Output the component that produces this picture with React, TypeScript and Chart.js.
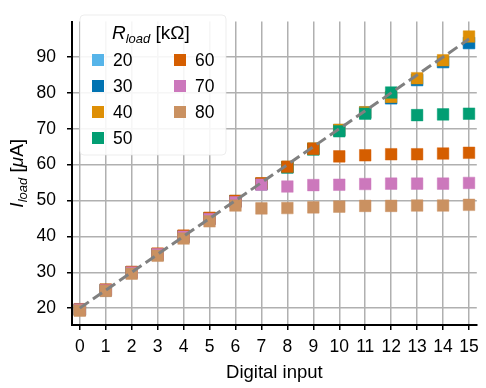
import React, { useEffect, useRef } from "react";
import { Chart, registerables } from "chart.js";

Chart.register(...registerables);

// ---- data ----
const digitalInput = [0, 1, 2, 3, 4, 5, 6, 7, 8, 9, 10, 11, 12, 13, 14, 15];
const loadLabels = ["20", "30", "40", "50", "60", "70", "80"];

const load20 = [19.6, 25.0, 30.0, 35.0, 40.0, 45.0, 49.8, 54.6, 59.3, 64.4, 69.6, 74.5, 78.5, 83.6, 88.6, 93.9];
const load30 = [19.6, 25.0, 30.0, 35.0, 40.0, 45.0, 49.8, 54.6, 59.3, 64.4, 69.6, 74.5, 78.5, 83.6, 88.6, 93.9];
const load40 = [19.6, 25.0, 30.0, 35.0, 40.0, 45.0, 49.8, 54.7, 59.4, 64.5, 69.7, 74.6, 78.9, 84.1, 89.1, 95.7];
const load50 = [19.6, 25.0, 30.0, 35.0, 40.0, 45.0, 49.8, 54.6, 59.2, 64.2, 69.3, 74.2, 80.1, 73.8, 74.0, 74.2];
const load60 = [19.7, 25.2, 30.1, 35.2, 40.2, 45.2, 49.9, 54.8, 59.4, 64.4, 62.3, 62.6, 62.9, 62.9, 63.1, 63.3];
const load70 = [19.6, 25.0, 29.9, 35.0, 39.9, 44.8, 49.5, 54.4, 53.9, 54.3, 54.4, 54.6, 54.7, 54.7, 54.7, 54.9];
const load80 = [19.3, 24.8, 29.6, 34.6, 39.4, 44.2, 48.6, 47.8, 47.9, 48.1, 48.3, 48.5, 48.5, 48.6, 48.6, 48.8];
const loadSeries = [load20, load30, load40, load50, load60, load70, load80];

const idealX = [0, 15];
const idealY = [20, 95];

const xTicks = [0, 1, 2, 3, 4, 5, 6, 7, 8, 9, 10, 11, 12, 13, 14, 15];
const yTicks = [20, 30, 40, 50, 60, 70, 80, 90];

// ---- style ----
const colors = ["#56b4e9", "#0173b2", "#de8f05", "#029e73", "#d55e00", "#cc78bc", "#ca9161"];
const FONT = "'Liberation Sans', Arial, sans-serif";

function hexA(hex: string, a: number) {
  const n = parseInt(hex.slice(1), 16);
  return `rgba(${(n >> 16) & 255},${(n >> 8) & 255},${n & 255},${a})`;
}

function drawRich(ctx: CanvasRenderingContext2D, parts: { t: string; it?: boolean; sub?: boolean }[], x: number, y: number, size: number, subSize: number, center: boolean) {
  const fontOf = (p: any) => `${p.it ? "italic " : ""}${p.sub ? subSize : size}px ${FONT}`;
  let total = 0;
  parts.forEach((p) => {
    ctx.font = fontOf(p);
    total += ctx.measureText(p.t).width;
  });
  let cx = center ? x - total / 2 : x;
  ctx.textBaseline = "alphabetic";
  ctx.textAlign = "left";
  parts.forEach((p) => {
    ctx.font = fontOf(p);
    ctx.fillText(p.t, cx, y + (p.sub ? size * 0.26 : 0));
    cx += ctx.measureText(p.t).width;
  });
}

const overlayPlugin = {
  id: "overlay",
  afterDraw(chart: any) {
    const ctx: CanvasRenderingContext2D = chart.ctx;
    const ca = chart.chartArea;
    ctx.save();
    ctx.fillStyle = "#000";
    // x title
    ctx.font = `18.5px ${FONT}`;
    ctx.textAlign = "center";
    ctx.textBaseline = "middle";
    ctx.fillText("Digital input", (ca.left + ca.right) / 2, 373);
    // y title
    ctx.save();
    ctx.translate(22.5, (ca.top + ca.bottom) / 2);
    ctx.rotate(-Math.PI / 2);
    drawRich(ctx, [{ t: "I", it: true }, { t: "load", it: true, sub: true }, { t: " [" }, { t: "μ", it: true }, { t: "A]" }], 0, 0, 19, 13, true);
    ctx.restore();

    // legend
    const lx = 80, ly = 15, lw = 146, lh = 140;
    ctx.beginPath();
    (ctx as any).roundRect(lx, ly, lw, lh, 4);
    ctx.fillStyle = "rgba(255,255,255,0.88)";
    ctx.fill();
    ctx.strokeStyle = "rgba(225,225,225,0.6)";
    ctx.lineWidth = 1;
    ctx.stroke();
    ctx.fillStyle = "#000";
    drawRich(ctx, [{ t: "R", it: true }, { t: "load", it: true, sub: true }, { t: " [kΩ]" }], 112, 38.5, 19, 13, false);
    const pos = [
      [98, 60], [98, 86], [98, 112], [98, 138],
      [180, 60], [180, 86], [180, 112],
    ];
    loadLabels.forEach((lab, i) => {
      const [sx, sy] = pos[i];
      ctx.fillStyle = colors[i];
      ctx.fillRect(sx - 6, sy - 6, 12, 12);
      ctx.fillStyle = "#000";
      ctx.font = `17.5px ${FONT}`;
      ctx.textAlign = "left";
      ctx.textBaseline = "middle";
      ctx.fillText(lab, sx + 15, sy + 1);
    });
    ctx.restore();
  },
};

export default function App() {
  const ref = useRef<HTMLCanvasElement>(null);
  useEffect(() => {
    document.body.style.margin = "0";
    const datasets: any[] = [
      {
        label: "ideal",
        data: idealX.map((x, i) => ({ x, y: idealY[i] })),
        showLine: true,
        borderColor: "#808080",
        borderWidth: 3,
        borderDash: [11, 5],
        pointRadius: 0,
        fill: false,
        order: 0,
      },
    ];
    loadSeries.forEach((vals, i) => {
      datasets.push({
        label: loadLabels[i],
        data: digitalInput.map((x, j) => ({ x, y: vals[j] })),
        pointStyle: "rect",
        pointRadius: 8.2,
        backgroundColor: colors[i],
        borderColor: hexA(colors[i], 0.45),
        borderWidth: 1,
        showLine: false,
        order: 7 - i,
      });
    });
    const grid = {
      color: "#b0b0b0",
      lineWidth: 1.5,
      drawTicks: true,
      tickColor: "#000",
      tickLength: 5,
      tickWidth: 1.5,
    };
    const chart = new Chart(ref.current!, {
      type: "scatter",
      data: { datasets },
      plugins: [overlayPlugin],
      options: {
        animation: false,
        responsive: false,
        layout: { padding: { top: 5, right: 3, left: 0, bottom: 0 } },
        plugins: { legend: { display: false }, tooltip: { enabled: false } },
        scales: {
          x: {
            type: "linear",
            min: -0.3,
            max: 15.3,
            afterBuildTicks: (s: any) => {
              s.ticks = xTicks.map((v) => ({ value: v }));
            },
            afterFit: (s: any) => {
              s.height = 63;
            },
            grid,
            border: { color: "#000", width: 2 },
            ticks: { color: "#000", font: { family: FONT, size: 17.5 }, padding: 7, maxRotation: 0, autoSkip: false },
          },
          y: {
            type: "linear",
            min: 15.3,
            max: 99.9,
            afterBuildTicks: (s: any) => {
              s.ticks = yTicks.map((v) => ({ value: v }));
            },
            afterFit: (s: any) => {
              s.width = 72;
            },
            grid,
            border: { color: "#000", width: 2 },
            ticks: { color: "#000", font: { family: FONT, size: 17.5 }, padding: 11 },
          },
        },
      } as any,
    });
    return () => chart.destroy();
  }, []);
  return (
    <div style={{ width: 486, height: 388 }}>
      <canvas ref={ref} width={486} height={388} style={{ display: "block", width: 486, height: 388 }} />
    </div>
  );
}
